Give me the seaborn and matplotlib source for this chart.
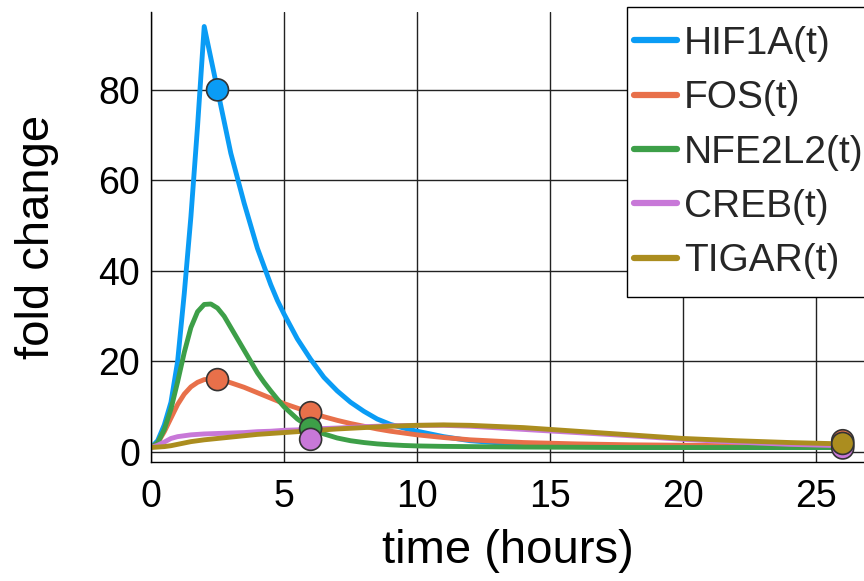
import matplotlib
matplotlib.use("Agg")
import matplotlib.pyplot as plt
from matplotlib.patches import Rectangle
import numpy as np
import pandas as pd
import seaborn as sns

# time grid (hours), shared by all curves
t = [0, 0.25, 0.5, 0.75, 1.0, 1.25, 1.5, 1.75, 2.0, 2.25, 2.5, 2.75, 3.0, 3.25, 3.5, 3.75,
     4, 4.25, 4.5, 4.75, 5, 5.5, 6, 6.5, 7, 7.5, 8, 8.5, 9, 9.5, 10, 11, 12, 14, 16, 18, 20, 22, 24, 26]

hif1a = [1, 2.5, 6, 11, 20, 35, 52, 72, 94, 87, 80, 73, 66, 60.5, 55, 50,
         45, 41, 37, 33.5, 30.5, 25, 20.5, 16.5, 13.5, 11, 9, 7.3, 6.1, 5.3, 4.6, 3.4, 2.5, 1.6, 1.2, 1.05, 1.0, 1.0, 1.0, 1.0]
fos = [1, 2, 4.5, 7.5, 10.5, 12.8, 14.4, 15.4, 16, 16.1, 16, 15.7, 15.3, 14.8, 14.3, 13.7,
       13.1, 12.5, 11.9, 11.3, 10.7, 9.7, 8.7, 7.8, 7, 6.3, 5.7, 5.1, 4.6, 4.2, 3.8, 3.2, 2.7, 2.1, 1.8, 1.6, 1.5, 1.4, 1.3, 1.2]
nfe2l2 = [1, 2, 5, 9.5, 15.5, 22, 27.5, 31, 32.6, 32.7, 31.8, 30, 27.5, 25, 22.5, 20,
          17.5, 15.4, 13.5, 11.7, 10, 7.3, 5.3, 4, 3.1, 2.5, 2.1, 1.8, 1.6, 1.45, 1.35, 1.25, 1.2, 1.1, 1.05, 1.0, 1.0, 1.0, 1.0, 1.0]
creb = [1, 1.5, 2.2, 3, 3.4, 3.6, 3.8, 3.9, 4.0, 4.05, 4.1, 4.15, 4.2, 4.25, 4.3, 4.4,
        4.5, 4.55, 4.6, 4.7, 4.8, 4.9, 5.0, 5.2, 5.3, 5.45, 5.6, 5.7, 5.8, 5.85, 5.9, 5.9, 5.7, 5.0, 4.3, 3.6, 2.8, 2.2, 1.7, 1.4]
tigar = [1, 1.1, 1.2, 1.4, 1.7, 2.0, 2.3, 2.5, 2.7, 2.85, 3.0, 3.15, 3.3, 3.45, 3.6, 3.75,
         3.9, 4.0, 4.1, 4.2, 4.3, 4.5, 4.7, 4.9, 5.1, 5.25, 5.4, 5.55, 5.7, 5.8, 5.9, 6.0, 5.9, 5.4, 4.6, 3.8, 3.0, 2.5, 2.1, 1.8]

genes = ["HIF1A(t)", "FOS(t)", "NFE2L2(t)", "CREB(t)", "TIGAR(t)"]
colors = ["#0a9cf5", "#e8704a", "#3d9f48", "#c878d8", "#ab8d1f"]

# measured points
pt_gene = ["HIF1A(t)", "FOS(t)", "FOS(t)", "FOS(t)", "NFE2L2(t)", "NFE2L2(t)",
           "CREB(t)", "CREB(t)", "TIGAR(t)"]
pt_time = [2.5, 2.5, 6, 26, 6, 26, 6, 26, 26]
pt_val = [80, 16, 8.7, 2.5, 5.2, 1.5, 2.8, 0.9, 1.9]

curves = pd.DataFrame({
    "time": t * 5,
    "value": hif1a + fos + nfe2l2 + creb + tigar,
    "gene": np.repeat(genes, len(t)),
})
points = pd.DataFrame({"time": pt_time, "value": pt_val, "gene": pt_gene})

sns.set_theme(style="white")
plt.rcParams["font.family"] = ["Liberation Sans", "DejaVu Sans"]

fig = plt.figure(figsize=(8.64, 5.81), dpi=100)
ax = fig.add_axes([151 / 864, 1 - 462 / 581, (864 - 151) / 864, 450 / 581])
pal = dict(zip(genes, colors))

sns.lineplot(data=curves, x="time", y="value", hue="gene", palette=pal,
             hue_order=genes, lw=3.5, ax=ax, zorder=2)
sns.scatterplot(data=points, x="time", y="value", hue="gene", palette=pal,
                hue_order=genes, s=250, edgecolor="#333333", linewidth=1.2,
                ax=ax, zorder=3, legend=False)

ax.set_xlim(0, 26.8)
ax.set_ylim(-2.2, 97.2)
ax.set_xticks([0, 5, 10, 15, 20, 25])
ax.set_yticks([0, 20, 40, 60, 80])
ax.grid(True, color="#222222", lw=1.0)
ax.set_axisbelow(True)
for s in ["top", "right"]:
    ax.spines[s].set_visible(False)
for s in ["left", "bottom"]:
    ax.spines[s].set_color("black")
    ax.spines[s].set_linewidth(1.0)
ax.tick_params(length=0, labelsize=27, colors="black")
ax.tick_params(axis="x", pad=12)
ax.tick_params(axis="y", pad=8)
ax.set_xlabel("time (hours)", fontsize=34, color="black", labelpad=10)
ax.set_ylabel("fold change", fontsize=34, color="black", labelpad=28)

# legend box drawn by hand so it can run off the right edge like the original
box = Rectangle((627 / 864, 1 - 297 / 581), 250 / 864, 290 / 581,
                transform=fig.transFigure, facecolor="white", edgecolor="black",
                lw=1.0, zorder=4, clip_on=False)
ax.add_patch(box)
leg = ax.legend(loc="upper left", bbox_to_anchor=(634 / 864, 1 - 26 / 581),
                bbox_transform=fig.transFigure, borderaxespad=0, borderpad=0,
                fontsize=28, frameon=False, handlelength=1.1,
                handletextpad=0.18, labelspacing=0.47)
leg.set_zorder(5)
for line in leg.get_lines():
    line.set_linewidth(4.5)

fig.savefig("out.png", dpi=100)
